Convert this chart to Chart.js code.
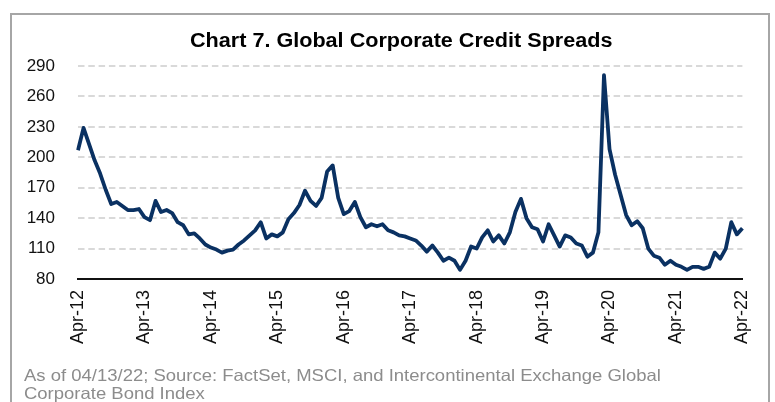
<!DOCTYPE html>
<html>
<head>
<meta charset="utf-8">
<script src="https://cdn.jsdelivr.net/npm/chart.js@4.4.1/dist/chart.umd.min.js"></script>
<style>
  html, body { margin: 0; padding: 0; background: #fff; }
  #wrap { position: relative; width: 775px; height: 402px; overflow: hidden; }
  #frame { position: absolute; left: 10px; top: 13px; width: 760px; height: 430px; border: 2px solid #a6a6a6; box-sizing: border-box; }
  #c { position: absolute; left: 0; top: 0; }
  #title { position: absolute; left: 190px; top: 30px; font-family: 'Liberation Sans', Arial, sans-serif; font-weight: bold; font-size: 20px; line-height: 20px; color: #000; white-space: nowrap; transform: scaleX(1.08); transform-origin: 0 0; }
  #note { position: absolute; left: 24px; top: 366px; font-family: 'Liberation Sans', Arial, sans-serif; font-size: 16.5px; line-height: 18px; color: #8c8c8c; white-space: nowrap; transform: scaleX(1.12); transform-origin: 0 0; }
</style>
</head>
<body>
<div id="wrap">
  <div id="frame"></div>
  <canvas id="c" width="775" height="402"></canvas>
  <div id="title"></div>
  <div id="note">As of 04/13/22; Source: FactSet, MSCI, and Intercontinental Exchange Global<br>Corporate Bond Index</div>
</div>
<script>
const title = "Chart 7. Global Corporate Credit Spreads";
const monthNames = ["Apr","May","Jun","Jul","Aug","Sep","Oct","Nov","Dec","Jan","Feb","Mar"];
const startYear = 12;
const monthCount = 121;
const yTicks = [80, 110, 140, 170, 200, 230, 260, 290];
const spreads = [
  207, 229, 213, 197, 184, 168, 154, 156, 152, 148, 148, 149,
  141, 138, 157, 146, 148, 145, 136, 133, 124, 125, 120, 114,
  111, 109, 106, 108, 109, 114, 118, 123, 128, 136, 120, 124,
  122, 126, 139, 145, 153, 167, 157, 152, 160, 186, 192, 160,
  144, 147, 156, 141, 131, 134, 132, 134, 128, 126, 123, 122,
  120, 118, 113, 107, 113, 106, 98, 101, 98, 89, 98, 112,
  110, 121, 128, 117, 123, 115, 126, 146, 159, 140, 131, 129,
  117, 134, 123, 112, 123, 121, 115, 113, 102, 106, 126, 281,
  208, 183, 163, 143, 133, 137, 130, 110, 103, 101, 94, 98,
  94, 92, 89, 92, 92, 90, 92, 106, 100, 110, 136, 124,
  130
];
const categories = [];
for (let i = 0; i < monthCount; i++) {
  const yr = startYear + Math.floor((i + 3) / 12);
  categories.push(monthNames[i % 12] + "-" + String(yr).padStart(2, "0"));
}
document.getElementById('title').textContent = title;

const FONT = "'Liberation Sans', Arial, sans-serif";

new Chart(document.getElementById('c'), {
  type: 'line',
  data: {
    labels: categories,
    datasets: [{
      data: spreads,
      borderColor: '#0a3162',
      borderWidth: 3.8,
      pointRadius: 0,
      tension: 0,
      fill: false,
      borderJoinStyle: 'round'
    }]
  },
  options: {
    responsive: false,
    animation: false,
    devicePixelRatio: 1,
    layout: { padding: { left: 0, right: 22, top: 66, bottom: 0 } },
    plugins: {
      legend: { display: false },
      tooltip: { enabled: false },
      title: { display: false }
    },
    scales: {
      x: {
        type: 'category',
        offset: false,
        grid: { display: false, drawTicks: false },
        border: { display: true, color: '#111', width: 2 },
        ticks: {
          autoSkip: false,
          maxRotation: 90,
          minRotation: 90,
          padding: 11,
          color: '#111',
          font: { family: FONT, size: 18 },
          callback: function(v, i) { return i % 12 === 0 ? this.getLabelForValue(v) : ''; }
        },
        afterFit: function(s) { s.height = 123; }
      },
      y: {
        min: 80,
        max: 290,
        afterBuildTicks: function(s) { s.ticks = yTicks.map(v => ({ value: v })); },
        grid: { color: '#d9d9d9', lineWidth: 2, drawTicks: false },
        border: { display: false, dash: [6.5, 3.8] },
        ticks: {
          padding: 23,
          color: '#111',
          font: { family: FONT, size: 17 }
        },
        afterFit: function(s) { s.width = 78; }
      }
    }
  }
});
</script>
</body>
</html>
